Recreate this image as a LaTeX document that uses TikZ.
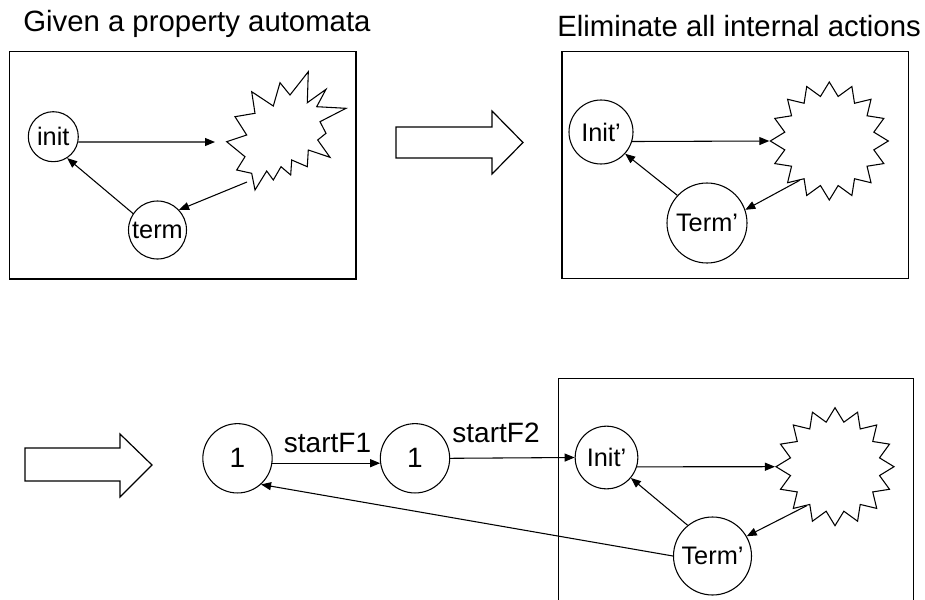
\documentclass[tikz,border=0pt]{standalone}
\usepackage{fontspec}
\setmainfont{Liberation Sans}
\usetikzlibrary{shapes.geometric,arrows.meta}
\begin{document}
\begin{tikzpicture}[x=0.75pt,y=-0.75pt,
  st/.style={circle,draw,line width=0.8pt,inner sep=0pt,font=\fontsize{19}{22}\selectfont},
  stone/.style={circle,draw,line width=0.8pt,inner sep=0pt,font=\fontsize{21}{24}\selectfont,minimum size=52pt},
  lab/.style={anchor=base,inner sep=0pt,font=\fontsize{21}{24}\selectfont},
  ttl/.style={anchor=base west,inner sep=0pt,font=\fontsize{22}{26}\selectfont},
  arr/.style={line width=0.8pt,-{Triangle[length=7.5pt,width=6pt]}},
  burst/.style={star,star points=16,star point ratio=1.3,draw,line width=0.8pt,minimum size=88.5pt,inner sep=0pt},
  frame/.style={draw,line width=1pt},
  hollow/.style={draw,line width=0.9pt,fill=white,line join=miter}]
\fill[white] (0,0) rectangle (925,600);
\clip (0,0) rectangle (925,600);

% titles
\node[ttl] (title1) at (23,31.5) {Given a property automata};
\node[ttl] (title2) at (557,36.5) {Eliminate all internal actions};

% ---- top left panel
\draw[frame] (9.3,51.7) rectangle (356,279);
\node[st,minimum size=37.5pt] (init) at (53.3,136.7) {init};
\node[st,minimum size=43.5pt] (term) at (157.5,230) {term};
\draw[line width=0.8pt,line join=miter] (308.3,71.7) -- (307.3,102.7) -- (326,89.3) -- (316.7,106.7) -- (346,108.3)
  -- (320,121.7) -- (326,133.3) -- (317.7,140) -- (330,157.3) -- (308.3,150) -- (307.3,166.7)
  -- (291.7,160) -- (290.7,175) -- (281,166.7) -- (273.3,180) -- (266.7,171) -- (255,190)
  -- (251.7,173.3) -- (236.7,170) -- (245,156.7) -- (226.7,141.7) -- (246.7,135) -- (235,116.7)
  -- (255,113.3) -- (251.7,91.7) -- (273.3,106) -- (280,82.7) -- (290,95) -- cycle;
\coordinate (s1in) at (215,142);
\coordinate (s1out) at (247,182);
\draw[arr] (init.-12) -- (s1in);
\draw[arr] (s1out) -- (term.43);
\draw[arr] (term.146) -- (init.-57);

% ---- top hollow arrow
\draw[hollow] (396,127) -- (492,127) -- (492,111) -- (523,142.5) -- (492,174) -- (492,158) -- (396,158) -- cycle;

% ---- top right panel
\draw[frame] (562,51.7) rectangle (908.3,278.3);
\node[st,minimum size=48pt] (i2) at (601,132) {Init’};
\node[st,minimum size=60pt] (t2) at (707,223) {Term’};
\node[burst] (s2) at (829.3,141) {};
\draw[arr] (i2.-17) -- (s2.west);
\draw[arr] (s2.233) -- (t2.19);
\draw[arr] (t2.137) -- (i2.-42);

% ---- bottom hollow arrow
\draw[hollow] (25,448) -- (120,448) -- (120,434) -- (152,465) -- (120,497) -- (120,481) -- (25,481) -- cycle;

% ---- bottom row
\node[stone] (a1) at (237.5,458.3) {1};
\node[stone] (b1) at (415,458.3) {1};
\node[lab] (l1) at (327.5,452.7) {startF1};
\node[lab] (l2) at (496,442.7) {startF2};
\draw[frame] (558.3,378.3) rectangle (913.3,610);
\node[st,minimum size=47pt] (i3) at (606.5,457.5) {Init’};
\node[st,minimum size=58.5pt] (t3) at (712.5,556) {Term’};
\node[burst] (s3) at (835,466.7) {};
\draw[arr] (a1.-8) -- (b1.188);
\draw[arr] (b1.east) -- (i3.west);
\draw[arr] (i3.-17) -- (s3.west);
\draw[arr] (s3.234) -- (t3.30);
\draw[arr] (t3.129) -- (i3.-40);
\draw[arr] (t3.west) -- (a1.-48);
\end{tikzpicture}
\end{document}
